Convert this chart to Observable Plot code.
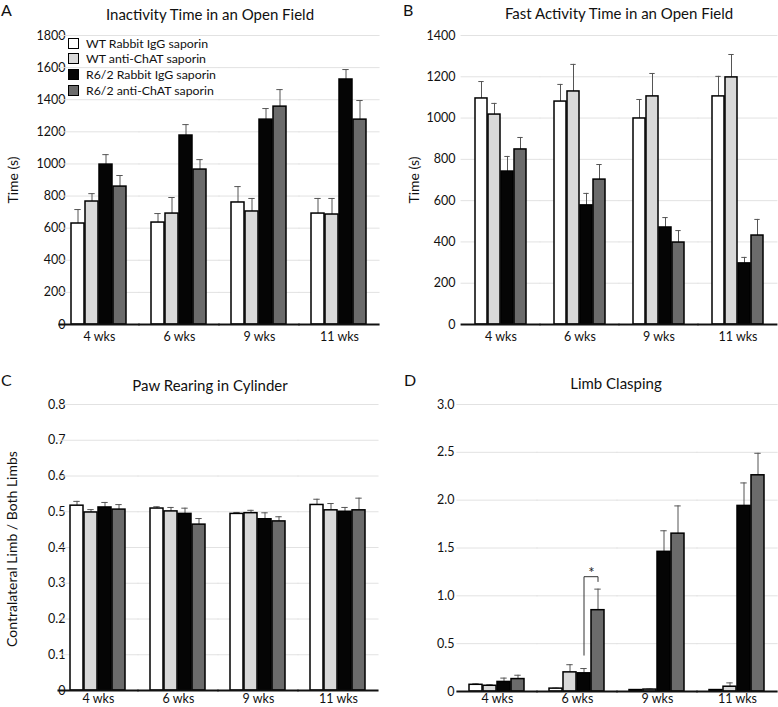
<!DOCTYPE html>
<html>
<head>
<meta charset="utf-8">
<script src="https://cdn.jsdelivr.net/npm/d3@7"></script>
<script src="https://cdn.jsdelivr.net/npm/@observablehq/plot@0.6"></script>
<style>
  html, body { margin: 0; padding: 0; background: #fff; }
  #root { position: relative; width: 778px; height: 707px; overflow: hidden; font-family: Lato, "Open Sans", sans-serif; color: #111; }
  .abs { position: absolute; white-space: nowrap; }
  .title { font-size: 15px; transform: translate(-50%, -50%); }
  .letter { font-size: 16px; line-height: 1; }
  .ylab { font-size: 14px; transform: translate(-50%, -50%) rotate(-90deg); }
  .leg { font-size: 12.3px; display: flex; align-items: center; }
  .leg span.sw { width: 11px; height: 11px; border: 1.3px solid #000; margin-right: 7px; box-sizing: border-box; display: inline-block; }
</style>
</head>
<body>
<div id="root"></div>
<script>
const weeks = ["4 wks", "6 wks", "9 wks", "11 wks"];
const groups = ["WT Rabbit IgG saporin", "WT anti-ChAT saporin", "R6/2 Rabbit IgG saporin", "R6/2 anti-ChAT saporin"];
const groupColors = ["#ffffff", "#d9d9d9", "#050505", "#6b6b6b"];

// Panel A: Inactivity time (s), rows = groups, cols = weeks
const inactMean = [[629, 635, 760, 691], [766, 691, 704, 685], [996, 1177, 1276, 1526], [859, 965, 1357, 1276]];
const inactSem  = [[87, 56, 99, 94], [49, 100, 81, 100], [62, 68, 69, 62], [69, 62, 106, 119]];
const inactTicks = [0, 200, 400, 600, 800, 1000, 1200, 1400, 1600, 1800];

// Panel B: Fast activity time (s)
const fastMean = [[1095, 1080, 998, 1105], [1017, 1129, 1105, 1197], [741, 577, 470, 296], [848, 702, 397, 431]];
const fastSem  = [[82, 83, 92, 97], [54, 131, 111, 111], [73, 58, 48, 29], [58, 73, 58, 78]];
const fastTicks = [0, 200, 400, 600, 800, 1000, 1200, 1400];

// Panel C: Paw rearing ratio
const pawMean = [[0.517, 0.509, 0.494, 0.519], [0.498, 0.501, 0.496, 0.504], [0.512, 0.494, 0.479, 0.500], [0.506, 0.464, 0.473, 0.504]];
const pawSem  = [[0.012, 0.005, 0.004, 0.016], [0.008, 0.011, 0.008, 0.019], [0.014, 0.016, 0.018, 0.012], [0.014, 0.017, 0.013, 0.034]];
const pawTicks = [0, 0.1, 0.2, 0.3, 0.4, 0.5, 0.6, 0.7, 0.8];

// Panel D: Limb clasping score
const claspMean = [[0.07, 0.03, 0.015, 0.015], [0.06, 0.20, 0.02, 0.05], [0.10, 0.19, 1.46, 1.94], [0.13, 0.85, 1.65, 2.26]];
const claspSem  = [[0.01, 0.005, 0.004, 0.004], [0.01, 0.08, 0.005, 0.04], [0.04, 0.05, 0.22, 0.24], [0.04, 0.22, 0.29, 0.23]];
const claspTicks = [0, 0.5, 1.0, 1.5, 2.0, 2.5, 3.0];

// Significance bracket (6 wks, R6/2 IgG vs R6/2 anti-ChAT)
const sigWeek = "6 wks";
const sigBracket = [
  {group: groups[2], y: 0.38},
  {group: groups[2], y: 1.20},
  {group: groups[3], y: 1.20},
  {group: groups[3], y: 1.15}
];
const sigLabel = [{group: groups[2], y: 1.2, text: "*"}];

function table(mean, sem) {
  const rows = [];
  groups.forEach((g, gi) => weeks.forEach((w, wi) => {
    rows.push({week: w, group: g, value: mean[gi][wi], top: mean[gi][wi] + sem[gi][wi]});
  }));
  return rows;
}

const fxPadInner = 0.3, fxPadOuter = 0.15;

function panel({mean, sem, ticks, tickFormat, width, height, mt, mb, ml, mr, tickPadding, xPad = 8, extra = []}) {
  const data = table(mean, sem);
  // grid lines are drawn in each facet, extended into the padding so they join up
  const ext = -((width - ml - mr) / weeks.length * fxPadOuter + 0.5);
  return Plot.plot({
    width, height,
    marginTop: mt, marginBottom: mb, marginLeft: ml, marginRight: mr,
    style: {fontFamily: "Lato, 'Open Sans', sans-serif", fontSize: "12.5px", background: "transparent", overflow: "visible", color: "#111"},
    fx: {domain: weeks, paddingInner: fxPadInner, paddingOuter: fxPadOuter, axis: "bottom", tickSize: 0, tickPadding: xPad, label: null},
    x: {domain: groups, paddingInner: 0.05, paddingOuter: 0, axis: null},
    y: {domain: [ticks[0], ticks[ticks.length - 1]], ticks, tickFormat, tickSize: 0, tickPadding, label: null},
    color: {domain: groups, range: groupColors},
    marks: [
      Plot.ruleY(ticks.slice(1), {stroke: "#e2e2e2", strokeWidth: 1, insetLeft: ext, insetRight: ext}),
      Plot.ruleX(data, {fx: "week", x: "group", y1: "value", y2: "top", stroke: "#555", strokeWidth: 1}),
      Plot.tickY(data, {fx: "week", x: "group", y: "top", stroke: "#555", strokeWidth: 1, insetLeft: 3.3, insetRight: 3.3}),
      Plot.barY(data, {fx: "week", x: "group", y: "value", fill: "group", stroke: "#000", strokeWidth: 1.5}),
      Plot.ruleY([0], {stroke: "#111", strokeWidth: 2, insetLeft: ext, insetRight: ext}),
      ...extra
    ]
  });
}

const root = document.getElementById("root");
function place(node, left, top) {
  const d = document.createElement("div");
  d.className = "abs";
  d.style.left = left + "px";
  d.style.top = top + "px";
  d.appendChild(node);
  root.appendChild(d);
}
function label(text, cls, left, top) {
  const d = document.createElement("div");
  d.className = "abs " + cls;
  d.style.left = left + "px";
  d.style.top = top + "px";
  d.textContent = text;
  root.appendChild(d);
  return d;
}

const intFmt = d => String(d);
const decFmt = d => d === 0 ? "0" : d.toFixed(1);

place(panel({mean: inactMean, sem: inactSem, ticks: inactTicks, tickFormat: intFmt,
  width: 389, height: 348, mt: 35, mb: 24, ml: 58, mr: 9, tickPadding: 6}), 0, 0);
place(panel({mean: fastMean, sem: fastSem, ticks: fastTicks, tickFormat: intFmt,
  width: 389, height: 348, mt: 35, mb: 24, ml: 71, mr: 0, tickPadding: 18}), 389, 0);
place(panel({mean: pawMean, sem: pawSem, ticks: pawTicks, tickFormat: decFmt,
  width: 389, height: 357, mt: 54, mb: 17, ml: 57, mr: 11, tickPadding: 5, xPad: 4}), 0, 350);
place(panel({mean: claspMean, sem: claspSem, ticks: claspTicks, tickFormat: decFmt,
  width: 389, height: 357, mt: 54, mb: 16, ml: 66, mr: 0, tickPadding: 15, xPad: 3,
  extra: [
    Plot.line(sigBracket, {fx: () => sigWeek, x: "group", y: "y", stroke: "#333", strokeWidth: 1}),
    Plot.text(sigLabel, {fx: () => sigWeek, x: "group", y: "y", text: "text", dx: 7.5, dy: 1, fontSize: 15, lineAnchor: "bottom", fill: "#222"})
  ]}), 389, 350);

// Panel letters and titles
label("A", "letter", 1, 2);
label("B", "letter", 403, 2);
label("C", "letter", 1, 372);
label("D", "letter", 404, 372);
label("Inactivity Time in an Open Field", "title", 210, 14);
label("Fast Activity Time in an Open Field", "title", 619, 13);
label("Paw Rearing in Cylinder", "title", 210, 385);
label("Limb Clasping", "title", 616, 383);
label("Time (s)", "ylab", 12, 180);
label("Time (s)", "ylab", 413, 180);
label("Contralateral Limb / Both Limbs", "ylab", 11, 549);

// Legend (panel A)
const legendY = [43, 58.5, 74, 90];
groups.forEach((g, i) => {
  const d = document.createElement("div");
  d.className = "abs leg";
  d.style.left = "68px";
  d.style.top = (legendY[i] - 8) + "px";
  d.style.height = "16px";
  const sw = document.createElement("span");
  sw.className = "sw";
  sw.style.background = groupColors[i];
  const t = document.createElement("span");
  t.textContent = g;
  d.appendChild(sw);
  d.appendChild(t);
  root.appendChild(d);
});
</script>
</body>
</html>
